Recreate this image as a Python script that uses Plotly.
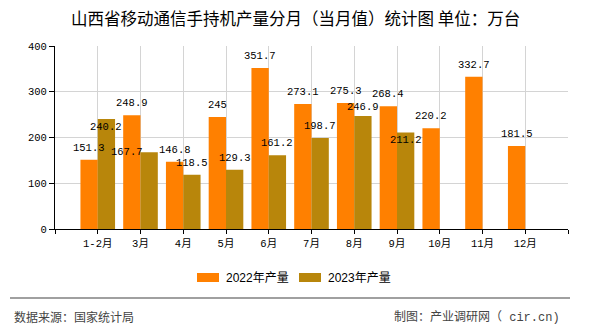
import plotly.graph_objects as go

# ---- data ----
categories = ["1-2月", "3月", "4月", "5月", "6月", "7月", "8月", "9月", "10月", "11月", "12月"]
values_2022 = [151.3, 248.9, 146.8, 245, 351.7, 273.1, 275.3, 268.4, 220.2, 332.7, 181.5]
values_2023 = [240.2, 167.7, 118.5, 129.3, 161.2, 198.7, 246.9, 211.2, None, None, None]
series_names = ["2022年产量", "2023年产量"]
y_ticks = [0, 100, 200, 300, 400]

title_text = "山西省移动通信手持机产量分月（当月值）统计图 单位：万台"
source_text = "数据来源：国家统计局"
maker_text = "制图：产业调研网（<span style='font-family:Liberation Mono'> cir.cn)</span>"

# ---- styles ----
C22 = "#FF8000"
C23 = "#B8860B"
GRID = "#d4d4d4"
MONO = "Liberation Mono, Noto Sans CJK SC, monospace"
CJK = "Noto Sans CJK SC, sans-serif"
BARGAP = 0.19

# label placement tweaks (pixels: xshift, yshift) for overlapping 2023 labels
label_adjust_2023 = {0: (0, -8), 1: (-22, 0), 6: (0, 9), 7: (0, -8)}
DEFAULT_DY = 12

W, H = 590, 330
L, R, T, B = 55, 568, 46, 229
PW, PH = R - L, B - T


def px(x):
    return (x - L) / PW


def py(y):
    return (B - y) / PH


xs = list(range(len(categories)))

fig = go.Figure()
fig.add_trace(go.Bar(x=xs, y=values_2022, name=series_names[0], marker_color=C22,
                     marker_line_width=0, showlegend=False))
fig.add_trace(go.Bar(x=xs, y=values_2023, name=series_names[1], marker_color=C23,
                     marker_line_width=0, showlegend=False))

half = (1 - BARGAP) / 4
annotations = []
for i, v in enumerate(values_2022):
    annotations.append(dict(x=i - half, y=v, xref="x", yref="y", text=str(v), showarrow=False,
                            yshift=DEFAULT_DY, yanchor="middle", xanchor="center",
                            font=dict(family=MONO, size=10.5, color="#000")))
for i, v in enumerate(values_2023):
    if v is None:
        continue
    dx, dy = label_adjust_2023.get(i, (0, DEFAULT_DY))
    annotations.append(dict(x=i + half, y=v, xref="x", yref="y", text=str(v), showarrow=False,
                            xshift=dx, yshift=dy, yanchor="middle", xanchor="center",
                            font=dict(family=MONO, size=10.5, color="#000")))

# legend (custom)
shapes = []
legend_items = [(197, 224, C22, series_names[0]), (299, 326, C23, series_names[1])]
for x0, tx, col, name in legend_items:
    shapes.append(dict(type="rect", xref="paper", yref="paper", x0=px(x0), x1=px(x0 + 22),
                       y0=py(282), y1=py(273), fillcolor=col, line_width=0))
    annotations.append(dict(x=px(tx), y=py(277.5), xref="paper", yref="paper", text=name,
                            showarrow=False, xanchor="left", yanchor="middle",
                            font=dict(family="Liberation Sans, Noto Sans CJK SC, sans-serif", size=12, color="#000")))

# footer line and texts
shapes.append(dict(type="line", xref="paper", yref="paper", x0=px(10), x1=px(570),
                   y0=py(298), y1=py(298), line=dict(color="#808080", width=1.5)))
annotations.append(dict(x=px(12), y=py(316), xref="paper", yref="paper", text=source_text,
                        showarrow=False, xanchor="left", yanchor="middle",
                        font=dict(family=CJK, size=12, color="#444")))
annotations.append(dict(x=px(562), y=py(316), xref="paper", yref="paper", text=maker_text,
                        showarrow=False, xanchor="right", yanchor="middle",
                        font=dict(family=CJK, size=12, color="#444")))
annotations.append(dict(x=px(295), y=py(18), xref="paper", yref="paper", text=title_text,
                        showarrow=False, xanchor="center", yanchor="middle",
                        font=dict(family=CJK, size=16.5, color="#000")))

tickvals_x = list(range(-1, len(categories) + 1))
ticktext_x = [""] + categories + [""]

fig.update_layout(
    width=W, height=H,
    margin=dict(l=L, r=W - R, t=T, b=H - B),
    paper_bgcolor="white", plot_bgcolor="white",
    barmode="group", bargap=BARGAP, bargroupgap=0,
    showlegend=False,
    annotations=annotations, shapes=shapes,
    xaxis=dict(range=[-1, len(categories)], tickmode="array", tickvals=tickvals_x, ticktext=ticktext_x,
               showgrid=True, gridcolor=GRID, gridwidth=1, zeroline=False,
               showline=True, linecolor="#000", linewidth=1,
               ticks="outside", ticklen=4, tickcolor="#000",
               tickfont=dict(family=MONO, size=10.5, color="#000")),
    yaxis=dict(range=[0, 400], tickmode="array", tickvals=y_ticks,
               showgrid=True, gridcolor=GRID, gridwidth=1, zeroline=False,
               showline=True, linecolor="#000", linewidth=1,
               ticks="outside", ticklen=5, tickcolor="#000",
               tickfont=dict(family=MONO, size=10.5, color="#000")),
)

fig.write_html("out.html")
